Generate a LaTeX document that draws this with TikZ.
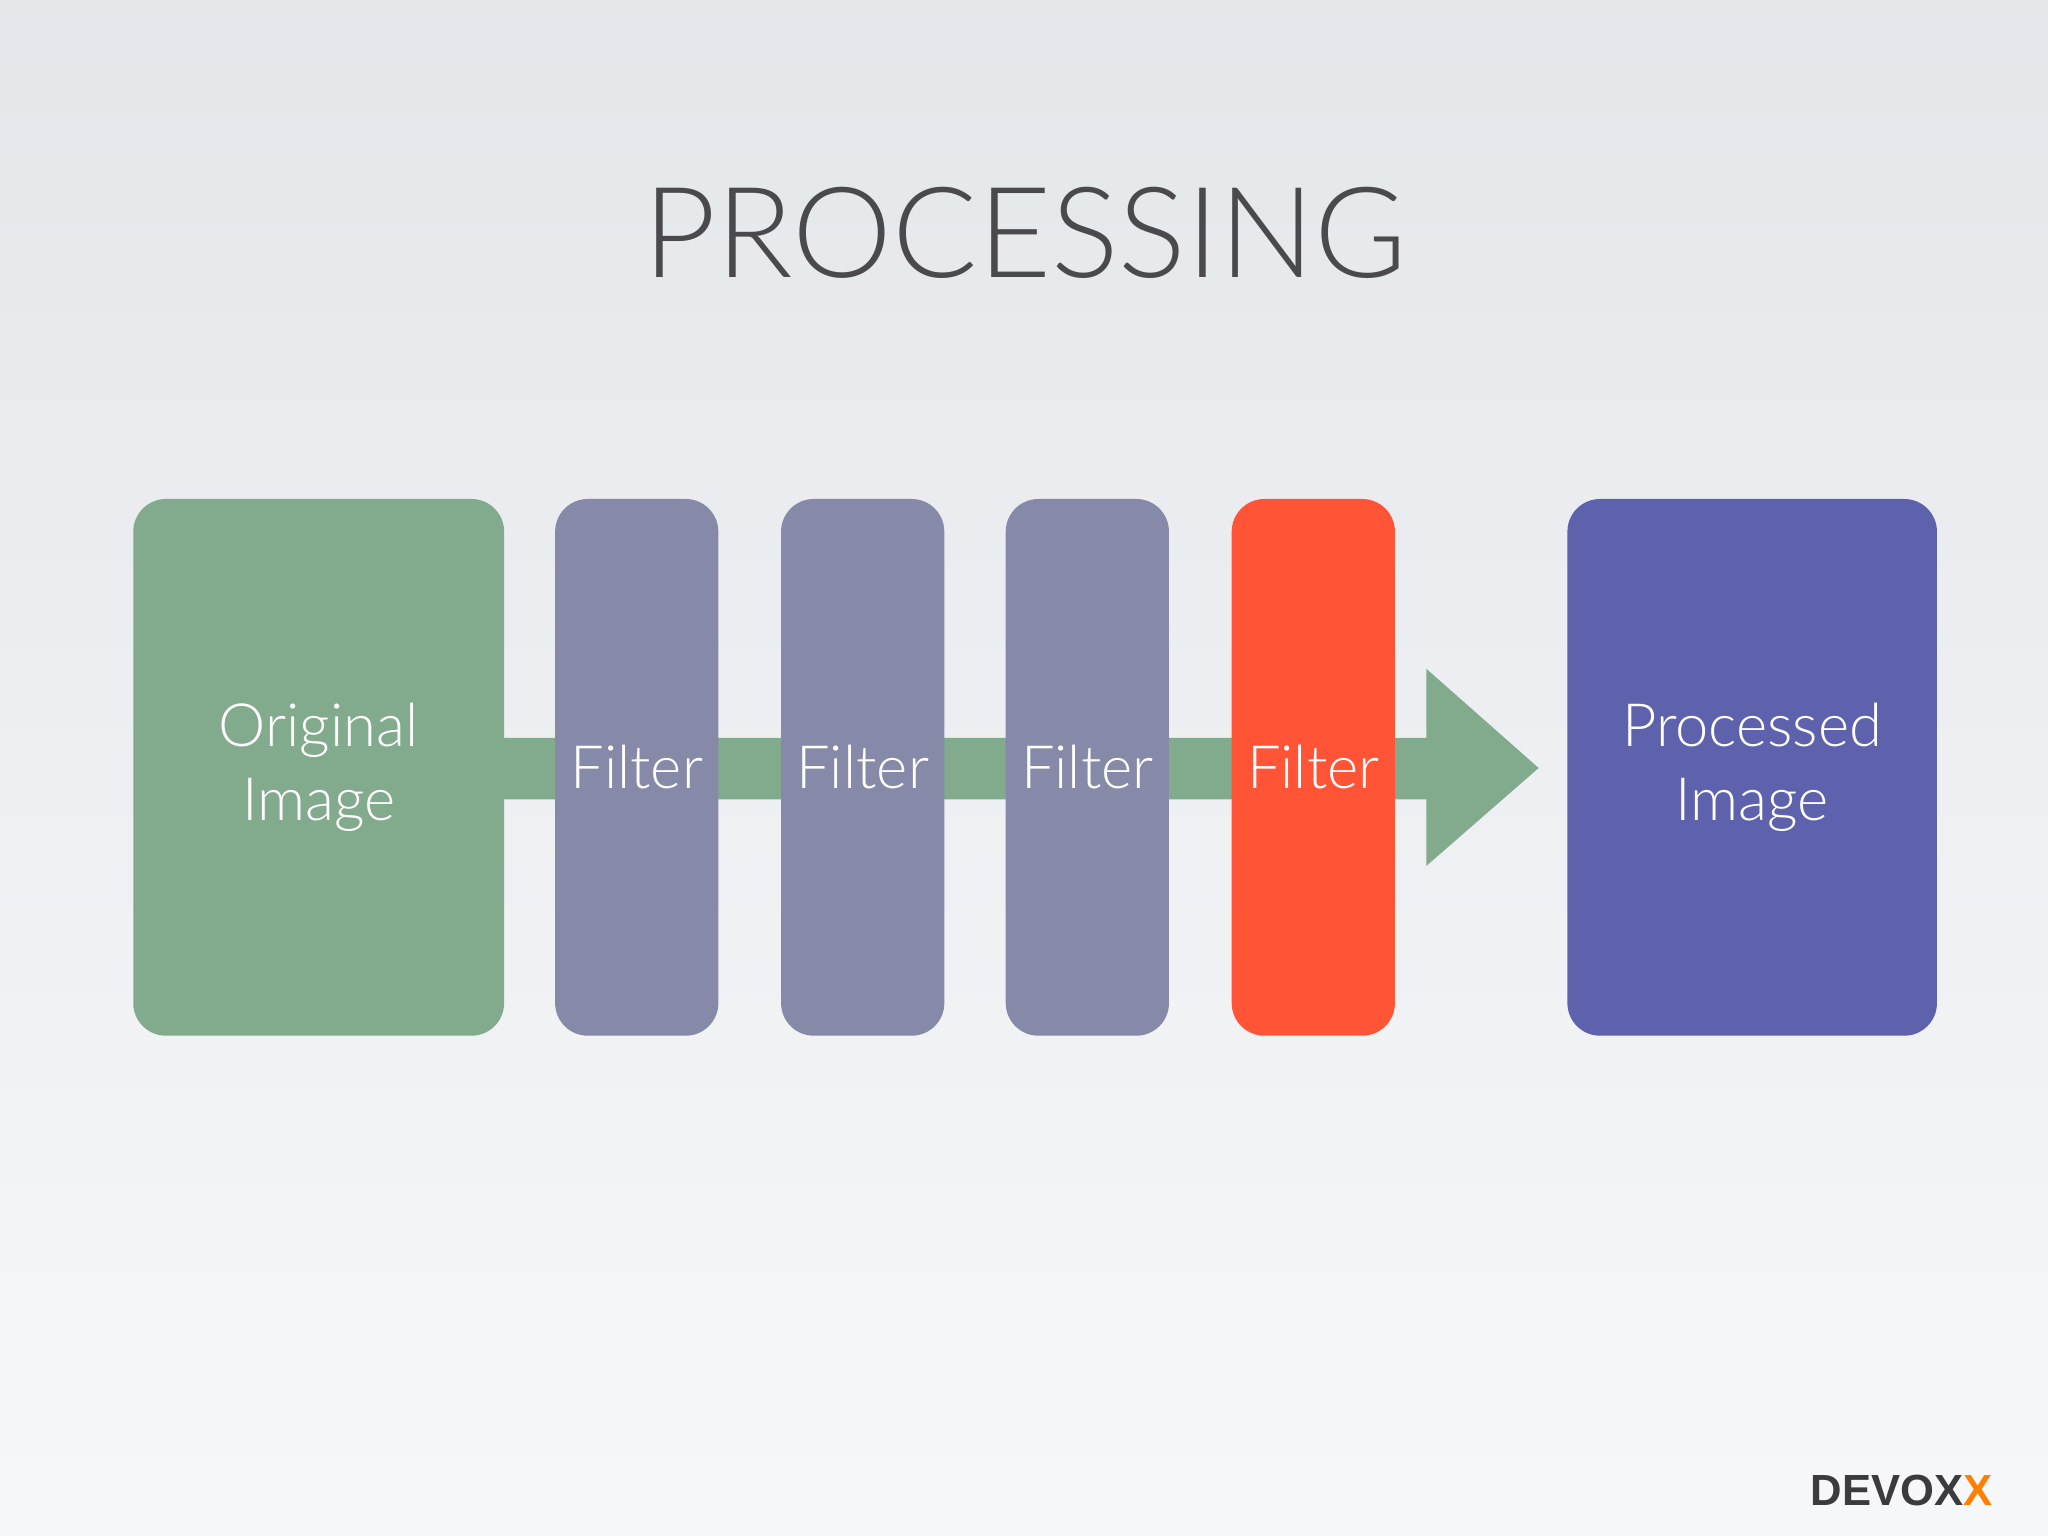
\documentclass[tikz,border=0pt]{standalone}
\usepackage{fontspec}
\setmainfont{Lato Light}
\newfontfamily\logofont{Liberation Sans}
\definecolor{bgc}{HTML}{E9ECF0}
\definecolor{grn}{HTML}{82AA8C}
\definecolor{flt}{HTML}{8789A9}
\definecolor{redf}{HTML}{FF5436}
\definecolor{blu}{HTML}{5E62AC}
\definecolor{ttl}{HTML}{4A4A4E}
\begin{document}
\begin{tikzpicture}[x=0.02cm,y=-0.02cm,
  blk/.style={draw=none,rounded corners=0.5cm,inner sep=0pt,text=white,font=\fontsize{26}{32}\selectfont,align=center}]
\useasboundingbox (0,0) rectangle (1568,1176);
\shade[top color=bgc!95!gray, bottom color=bgc!40!white] (0,0) rectangle (1568,1176);
\node[text=ttl,font=\fontsize{55}{60}\selectfont] (title) at (785,178) {PROCESSING};
% arrow band
\fill[grn] (386,565) -- (1092,565) -- (1092,512) -- (1178,588) -- (1092,663) -- (1092,612) -- (386,612) -- cycle;
\node[blk,fill=grn,minimum width=5.68cm,minimum height=8.22cm] (orig) at (244,587.5) {Original\\Image};
\node[blk,fill=flt,minimum width=2.5cm,minimum height=8.22cm] (f1) at (487.5,587.5) {Filter};
\node[blk,fill=flt,minimum width=2.5cm,minimum height=8.22cm] (f2) at (660.5,587.5) {Filter};
\node[blk,fill=flt,minimum width=2.5cm,minimum height=8.22cm] (f3) at (832.5,587.5) {Filter};
\node[blk,fill=redf,minimum width=2.5cm,minimum height=8.22cm] (f4) at (1005.5,587.5) {Filter};
\node[blk,fill=blu,minimum width=5.66cm,minimum height=8.22cm] (proc) at (1341.5,587.5) {Processed\\Image};
\node[text=ttl!80!black,font=\logofont\bfseries\fontsize{19}{19}\selectfont] (logo) at (1456,1141) {DEVOX\textcolor{orange}{X}};
\end{tikzpicture}
\end{document}
